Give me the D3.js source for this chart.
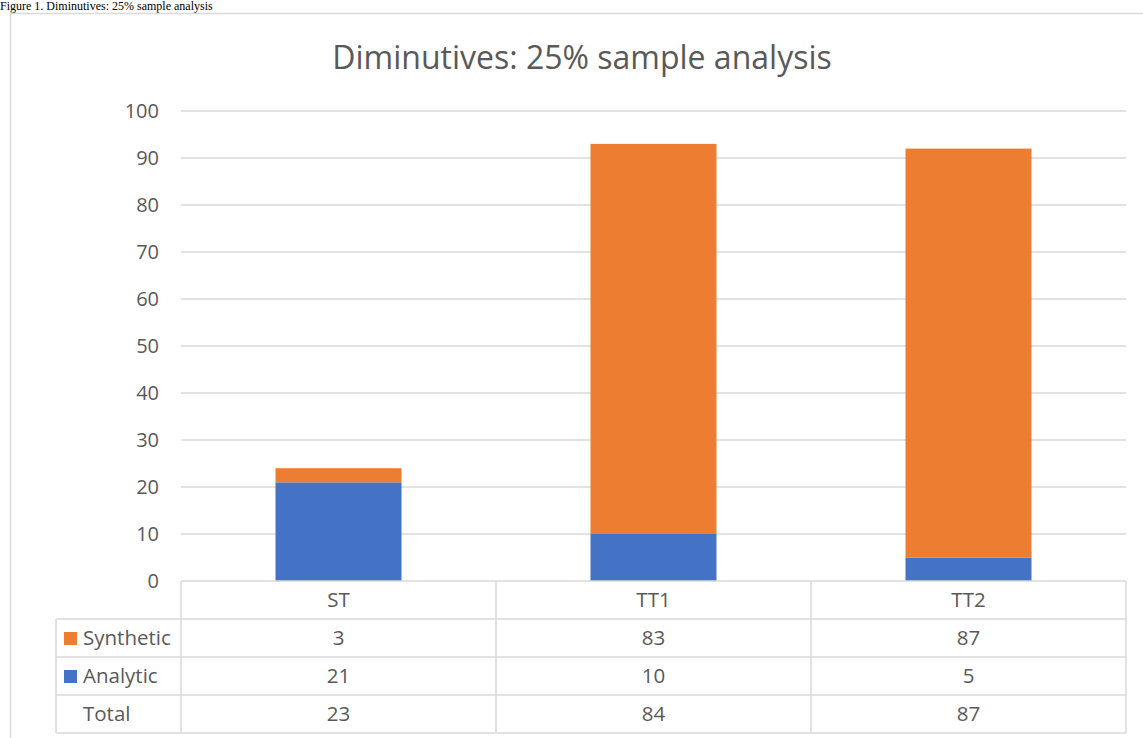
<!DOCTYPE html>
<html><head><meta charset="utf-8">
<script src="https://cdn.jsdelivr.net/npm/d3@7"></script>
<style>body{margin:0;background:#fff;} svg{display:block;}</style>
</head><body>
<svg id="c" width="1143" height="738"></svg>
<script>
const categories = ["ST", "TT1", "TT2"];
const analytic = [21, 10, 5];
const synthetic = [3, 83, 87];
const tableSynthetic = ["3", "83", "87"];
const tableAnalytic = ["21", "10", "5"];
const tableTotal = ["23", "84", "87"];
const yTicks = [0, 10, 20, 30, 40, 50, 60, 70, 80, 90, 100];
const seriesNames = ["Synthetic", "Analytic", "Total"];
const colors = {Analytic: "#4472C4", Synthetic: "#ED7D31"};

const svg = d3.select("#c");
const font = "'Open Sans', sans-serif";
const textCol = "#595959";
const gridCol = "#D9D9D9";

// caption above the chart frame
svg.append("text").attr("x", 0).attr("y", 10).attr("font-family", "'Liberation Serif', serif")
  .attr("font-size", 12).attr("fill", "#000").text("Figure 1. Diminutives: 25% sample analysis");

// outer frame
svg.append("rect").attr("x", 10.5).attr("y", 13.5).attr("width", 1140).attr("height", 740)
  .attr("fill", "none").attr("stroke", gridCol).attr("stroke-width", 1.5);

const pLeft = 181, pRight = 1126, pTop = 111, pBottom = 581;
const x = d3.scaleBand().domain(categories).range([pLeft, pRight]).paddingInner(0.6).paddingOuter(0.3);
const xCol = d3.scaleBand().domain(categories).range([pLeft, pRight]);
const y = d3.scaleLinear().domain([0, 100]).range([pBottom, pTop]);

// title
svg.append("text").attr("x", 582).attr("y", 69).attr("text-anchor", "middle")
  .attr("font-family", font).attr("font-size", 32).attr("fill", textCol)
  .text("Diminutives: 25% sample analysis");

// gridlines
svg.append("g").selectAll("line").data(yTicks.filter(d => d > 0)).join("line")
  .attr("x1", pLeft).attr("x2", pRight).attr("y1", d => y(d)).attr("y2", d => y(d))
  .attr("stroke", gridCol).attr("stroke-width", 1.5);

// y axis labels
const yAxis = d3.axisLeft(y).tickValues(yTicks).tickSize(0).tickPadding(0);
const ya = svg.append("g").attr("transform", `translate(159,0)`).call(yAxis);
ya.select(".domain").remove();
ya.selectAll("text").attr("font-family", font).attr("font-size", 20).attr("fill", textCol);

// stacked bars
const rows = categories.map((c, i) => ({cat: c, Analytic: analytic[i], Synthetic: synthetic[i]}));
const stack = d3.stack().keys(["Analytic", "Synthetic"])(rows);
svg.append("g").selectAll("g").data(stack).join("g").attr("fill", s => colors[s.key])
  .selectAll("rect").data(s => s).join("rect")
  .attr("x", d => x(d.data.cat)).attr("width", x.bandwidth())
  .attr("y", d => y(d[1])).attr("height", d => y(d[0]) - y(d[1]));

// data table
const rowH = 38;
const tableTop = pBottom;
const tLeft = 56;
const g = svg.append("g").attr("stroke", gridCol).attr("stroke-width", 1.5).attr("fill", "none");
g.append("line").attr("x1", pLeft).attr("x2", pRight).attr("y1", tableTop).attr("y2", tableTop);
for (let r = 1; r <= 4; r++) {
  g.append("line").attr("x1", tLeft).attr("x2", pRight).attr("y1", tableTop + r * rowH).attr("y2", tableTop + r * rowH);
}
g.append("line").attr("x1", tLeft).attr("x2", tLeft).attr("y1", tableTop + rowH).attr("y2", tableTop + 4 * rowH);
[pLeft, ...categories.map(c => xCol(c) + xCol.bandwidth())].forEach(xx => {
  g.append("line").attr("x1", xx).attr("x2", xx).attr("y1", tableTop).attr("y2", tableTop + 4 * rowH);
});

const txt = svg.append("g").attr("font-family", font).attr("font-size", 20.5).attr("fill", textCol);
txt.selectAll(".hdr").data(categories).join("text").attr("class", "hdr")
  .attr("x", d => xCol(d) + xCol.bandwidth() / 2).attr("y", tableTop + rowH / 2 + 7)
  .attr("text-anchor", "middle").text(d => d);
const tableData = [tableSynthetic, tableAnalytic, tableTotal];
tableData.forEach((arr, r) => {
  txt.selectAll(".r" + r).data(arr).join("text").attr("class", "r" + r)
    .attr("x", (d, i) => xCol(categories[i]) + xCol.bandwidth() / 2)
    .attr("y", tableTop + (r + 1) * rowH + rowH / 2 + 7)
    .attr("text-anchor", "middle").text(d => d);
});
seriesNames.forEach((name, r) => {
  const cy = tableTop + (r + 1) * rowH + rowH / 2;
  if (colors[name]) {
    svg.append("rect").attr("x", 64).attr("y", cy - 6).attr("width", 13).attr("height", 13).attr("fill", colors[name]);
  }
  txt.append("text").attr("x", 83).attr("y", cy + 7).text(name);
});
</script>
</body></html>
